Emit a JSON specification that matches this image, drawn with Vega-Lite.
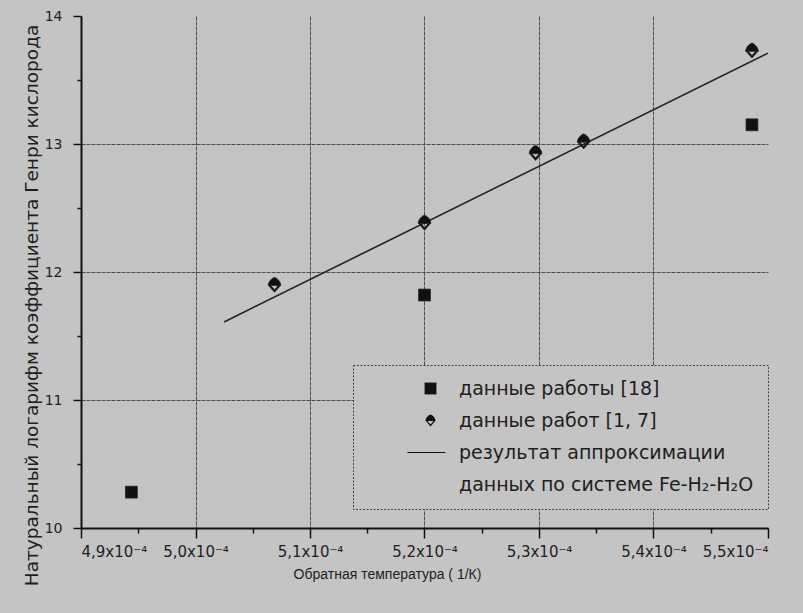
{
  "$schema": "https://vega.github.io/schema/vega-lite/v6.json",
  "width": 687,
  "height": 512,
  "autosize": {"type": "none"},
  "padding": {"left": 81, "top": 16, "right": 35, "bottom": 85},
  "background": "#c4c4c4",
  "config": {
    "view": {"stroke": null},
    "font": "DejaVu Sans",
    "axis": {
      "domainColor": "#111111",
      "domainWidth": 2,
      "tickColor": "#111111",
      "tickWidth": 1.5,
      "labelFont": "DejaVu Sans",
      "labelFontSize": 14,
      "labelColor": "#1e1e1e",
      "titleFont": "Liberation Sans",
      "titleFontSize": 14,
      "titleFontWeight": "normal",
      "titleColor": "#1e1e1e",
      "gridColor": "#404040",
      "gridWidth": 1,
      "gridDash": [4, 1]
    },
    "legend": {
      "strokeColor": "#444444",
      "strokeDash": [2, 1.5],
      "strokeWidth": 1,
      "fillColor": "#c4c4c4",
      "labelFont": "DejaVu Sans",
      "labelFontSize": 19,
      "labelColor": "#1e1e1e",
      "symbolStrokeColor": "#555555",
      "symbolStrokeWidth": 0.8
    }
  },
  "datasets": {
    "points": [
      {"inv_t": 0.0004944, "ln_h": 10.28, "series": "данные работы [18]"},
      {"inv_t": 0.00052, "ln_h": 11.82, "series": "данные работы [18]"},
      {"inv_t": 0.0005486, "ln_h": 13.15, "series": "данные работы [18]"},
      {"inv_t": 0.0005069, "ln_h": 11.9, "series": "данные работ [1, 7]"},
      {"inv_t": 0.00052, "ln_h": 12.385, "series": "данные работ [1, 7]"},
      {"inv_t": 0.0005297, "ln_h": 12.93, "series": "данные работ [1, 7]"},
      {"inv_t": 0.0005339, "ln_h": 13.02, "series": "данные работ [1, 7]"},
      {"inv_t": 0.0005486, "ln_h": 13.73, "series": "данные работ [1, 7]"}
    ],
    "fit": [
      {"inv_t": 0.0005025, "ln_h": 11.61},
      {"inv_t": 0.00055, "ln_h": 13.71}
    ]
  },
  "layer": [
    {
      "data": {"name": "fit"},
      "mark": {"type": "line", "color": "#222222", "strokeWidth": 1.6},
      "encoding": {
        "x": {
          "field": "inv_t",
          "type": "quantitative",
          "scale": {"domain": [0.00049, 0.00055], "nice": false, "zero": false},
          "axis": {
            "values": [0.00049, 0.000495, 0.0005, 0.000505, 0.00051, 0.000515, 0.00052, 0.000525, 0.00053, 0.000535, 0.00054, 0.000545, 0.00055],
            "labelExpr": "abs(datum.value * 1e5 - round(datum.value * 1e5)) > 0.25 ? '' : replace(format(datum.value * 1e4, '.1f'), '.', ',') + 'x10⁻⁴'",
            "tickSize": {"condition": {"test": "abs(datum.value * 1e5 - round(datum.value * 1e5)) > 0.25", "value": 5}, "value": 10},
            "gridOpacity": {"condition": {"test": "abs(datum.value * 1e5 - round(datum.value * 1e5)) > 0.25 || datum.value > 0.000549", "value": 0}, "value": 0.9},
            "labelPadding": 6,
            "labelFontSize": 15,
            "title": "Обратная температура  ( 1/К)",
            "titleX": 306,
            "titlePadding": 8
          }
        },
        "y": {
          "field": "ln_h",
          "type": "quantitative",
          "scale": {"domain": [10, 14], "nice": false, "zero": false},
          "axis": {
            "values": [10, 10.5, 11, 11.5, 12, 12.5, 13, 13.5, 14],
            "labelExpr": "datum.value % 1 != 0 ? '' : format(datum.value, 'd')",
            "tickSize": {"condition": {"test": "datum.value % 1 != 0", "value": 4}, "value": 8},
            "gridOpacity": {"condition": {"test": "datum.value % 1 != 0 || datum.value >= 14", "value": 0}, "value": 0.9},
            "labelPadding": 11,
            "labelFontSize": 14,
            "title": "Натуральный логарифм коэффициента Генри кислорода",
            "titleFont": "DejaVu Sans",
            "titleFontSize": 18.5,
            "titleX": -50,
            "titleY": 289,
            "titleBaseline": "middle"
          }
        }
      }
    },
    {
      "data": {"name": "points"},
      "mark": {"type": "point", "filled": false, "fill": "#111111", "stroke": "#222222", "strokeWidth": 0.8, "opacity": 1},
      "encoding": {
        "x": {"field": "inv_t", "type": "quantitative"},
        "y": {"field": "ln_h", "type": "quantitative"},
        "shape": {
          "field": "series",
          "type": "nominal",
          "scale": {
            "domain": ["данные работы [18]", "данные работ [1, 7]", "результат аппроксимации", "данных по системе Fe-H₂-H₂O"],
            "range": ["square", "M-0.85,0.1 C-0.85,-0.45 -0.3,-0.95 0,-1 C0.3,-0.95 0.85,-0.45 0.85,0.1 Z M-0.8,0.1 L0,1 L0.8,0.1 L0.52,0.1 L0,0.66 L-0.52,0.1 Z", "M-3.9,-0.09 L2.5,-0.09 L2.5,0.09 L-3.9,0.09 Z", "M0,0"]
          },
          "legend": {
            "title": null,
            "orient": "none",
            "legendX": 272,
            "legendY": 349,
            "padding": 14,
            "symbolSize": 140,
            "symbolOffset": 54,
            "labelOffset": 19,
            "rowPadding": 12,
            "labelLimit": 420
          }
        },
        "size": {
          "field": "series",
          "type": "nominal",
          "legend": null,
          "scale": {
            "domain": ["данные работы [18]", "данные работ [1, 7]"],
            "range": [140, 220]
          }
        }
      }
    }
  ]
}
